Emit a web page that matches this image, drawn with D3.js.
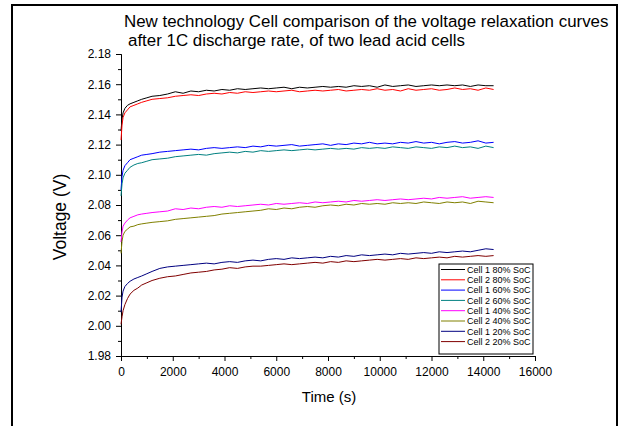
<!DOCTYPE html>
<html>
  <head>
    <meta charset="UTF-8">
    <title>Voltage relaxation</title>
    <style>
      body {
        margin: 0;
        background: #fff;
        font-family: Arial, "Liberation Sans", sans-serif;
      }
      text {
        font-family: Arial, "Liberation Sans", sans-serif;
        fill: #000;
      }
      .tick text {
        font-size: 12px;
      }
      .tick line, .domain {
        stroke: #000;
      }
      .axis-label {
        font-size: 15px;
      }
      .y-label {
        font-size: 17.5px;
      }
      .title {
        font-size: 16.9px;
      }
      .line {
        fill: none;
        stroke-width: 1;
      }
      .legend text {
        font-size: 9px;
      }
    </style>
    <script src="https://d3js.org/d3.v7.min.js"></script>
  </head>
  <body>
    <div id="my_dataviz"></div>
<script>
  // time of each sample (s)
  var times = [0, 40, 80, 150, 250, 350, 500, 650, 800, 1000,
    1200, 1500, 1800, 2100, 2400, 2700, 3000, 3300, 3600, 3900,
    4200, 4500, 4800, 5100, 5400, 5700, 6000, 6300, 6600, 6900,
    7200, 7500, 7800, 8100, 8400, 8700, 9000, 9300, 9600, 9900,
    10200, 10500, 10800, 11100, 11400, 11700, 12000, 12300, 12600, 12900,
    13200, 13500, 13800, 14100, 14400];

  var seriesNames = ["Cell 1 80% SoC", "Cell 2 80% SoC", "Cell 1 60% SoC", "Cell 2 60% SoC",
                     "Cell 1 40% SoC", "Cell 2 40% SoC", "Cell 1 20% SoC", "Cell 2 20% SoC"];
  var seriesColors = ["#000000", "#ff0000", "#0000ff", "#008080",
                      "#ff00ff", "#808000", "#000080", "#800000"];

  // voltages (V)
  var cell1_80 = [2.129, 2.137, 2.141, 2.144, 2.146, 2.147, 2.148, 2.149, 2.150, 2.151,
    2.152, 2.1525, 2.1535, 2.155, 2.154, 2.1555, 2.155, 2.156, 2.1555, 2.1565,
    2.156, 2.157, 2.1565, 2.157, 2.1575, 2.157, 2.1575, 2.158, 2.157, 2.158,
    2.1575, 2.158, 2.1585, 2.158, 2.1585, 2.158, 2.159, 2.1585, 2.159, 2.158,
    2.1595, 2.1585, 2.159, 2.1595, 2.1585, 2.159, 2.1595, 2.159, 2.1595, 2.159,
    2.1595, 2.1585, 2.1595, 2.159, 2.159];
  var cell2_80 = [2.123, 2.133, 2.138, 2.141, 2.143, 2.145, 2.146, 2.147, 2.148, 2.149,
    2.150, 2.1505, 2.151, 2.152, 2.1525, 2.153, 2.1525, 2.1535, 2.154, 2.1535,
    2.1545, 2.154, 2.155, 2.1545, 2.155, 2.1555, 2.155, 2.1555, 2.156, 2.155,
    2.1555, 2.156, 2.1555, 2.156, 2.1565, 2.1555, 2.156, 2.1565, 2.156, 2.157,
    2.156, 2.1565, 2.1555, 2.157, 2.156, 2.1565, 2.157, 2.156, 2.1565, 2.1575,
    2.1565, 2.157, 2.156, 2.1575, 2.1565];
  var cell1_60 = [2.090, 2.099, 2.103, 2.106, 2.108, 2.110, 2.111, 2.112, 2.113, 2.1135,
    2.114, 2.115, 2.1155, 2.116, 2.1165, 2.117, 2.1165, 2.1175, 2.118, 2.1175,
    2.118, 2.1185, 2.118, 2.119, 2.1185, 2.1195, 2.119, 2.1195, 2.120, 2.119,
    2.1195, 2.120, 2.1205, 2.1195, 2.1205, 2.120, 2.121, 2.1205, 2.1215, 2.1205,
    2.121, 2.1205, 2.1215, 2.121, 2.122, 2.121, 2.1215, 2.1205, 2.1215, 2.122,
    2.121, 2.1215, 2.1225, 2.121, 2.1215];
  var cell2_60 = [2.086, 2.094, 2.098, 2.101, 2.103, 2.105, 2.1065, 2.1075, 2.108, 2.109,
    2.110, 2.1105, 2.111, 2.112, 2.1125, 2.113, 2.1135, 2.113, 2.114, 2.1145,
    2.115, 2.1145, 2.1155, 2.115, 2.116, 2.1155, 2.116, 2.1165, 2.116, 2.1165,
    2.117, 2.1165, 2.117, 2.1175, 2.117, 2.1175, 2.117, 2.118, 2.1175, 2.118,
    2.1175, 2.1185, 2.118, 2.1175, 2.1185, 2.118, 2.1175, 2.1185, 2.118, 2.119,
    2.118, 2.1185, 2.1175, 2.119, 2.118];
  var cell1_40 = [2.0555, 2.062, 2.066, 2.068, 2.070, 2.0715, 2.0725, 2.0735, 2.074, 2.0745,
    2.075, 2.0755, 2.076, 2.0775, 2.077, 2.078, 2.0775, 2.0785, 2.079, 2.0785,
    2.0795, 2.079, 2.0795, 2.080, 2.0805, 2.080, 2.081, 2.0805, 2.081, 2.0815,
    2.081, 2.082, 2.0815, 2.082, 2.0825, 2.082, 2.083, 2.0825, 2.083, 2.0835,
    2.083, 2.0835, 2.084, 2.0835, 2.084, 2.0845, 2.084, 2.085, 2.0845, 2.085,
    2.0855, 2.0845, 2.085, 2.0855, 2.085];
  var cell2_40 = [2.048, 2.056, 2.060, 2.0625, 2.064, 2.0655, 2.066, 2.067, 2.0675, 2.068,
    2.0685, 2.069, 2.0695, 2.0705, 2.071, 2.0715, 2.072, 2.0725, 2.073, 2.074,
    2.0745, 2.075, 2.0755, 2.076, 2.0765, 2.0775, 2.077, 2.078, 2.0775, 2.0785,
    2.079, 2.0785, 2.0795, 2.080, 2.0795, 2.0805, 2.080, 2.081, 2.0805, 2.081,
    2.0805, 2.0815, 2.081, 2.0815, 2.081, 2.082, 2.0815, 2.081, 2.082, 2.0815,
    2.082, 2.081, 2.0825, 2.082, 2.0815];
  var cell1_20 = [2.009, 2.019, 2.023, 2.026, 2.028, 2.0295, 2.031, 2.032, 2.033, 2.0345,
    2.036, 2.038, 2.039, 2.0395, 2.040, 2.0405, 2.041, 2.0415, 2.041, 2.042,
    2.0425, 2.042, 2.043, 2.0435, 2.043, 2.044, 2.0445, 2.044, 2.045, 2.0445,
    2.045, 2.0455, 2.045, 2.046, 2.0455, 2.0465, 2.046, 2.047, 2.0465, 2.047,
    2.0475, 2.047, 2.048, 2.0475, 2.048, 2.0485, 2.048, 2.049, 2.0485, 2.049,
    2.0495, 2.049, 2.050, 2.051, 2.0505];
  var cell2_20 = [2.001, 2.006, 2.010, 2.014, 2.018, 2.021, 2.0235, 2.025, 2.027, 2.0285,
    2.030, 2.0315, 2.0325, 2.033, 2.034, 2.035, 2.0355, 2.036, 2.037, 2.0375,
    2.0385, 2.038, 2.039, 2.0395, 2.0395, 2.040, 2.0405, 2.041, 2.0405, 2.041,
    2.0415, 2.042, 2.0415, 2.0425, 2.042, 2.043, 2.0425, 2.043, 2.0435, 2.044,
    2.0435, 2.044, 2.0445, 2.044, 2.045, 2.0445, 2.045, 2.0455, 2.045, 2.046,
    2.0455, 2.046, 2.0465, 2.046, 2.0465];

  var seriesValues = [cell1_80, cell2_80, cell1_60, cell2_60, cell1_40, cell2_40, cell1_20, cell2_20];

  var xTicks = [0, 2000, 4000, 6000, 8000, 10000, 12000, 14000, 16000];
  var yTicks = [1.98, 2.00, 2.02, 2.04, 2.06, 2.08, 2.10, 2.12, 2.14, 2.16, 2.18];

  var W = 621, H = 426;
  var margin = {top: 54, right: 86, bottom: 70, left: 121},
      width = W - margin.left - margin.right,
      height = H - margin.top - margin.bottom;

  var root = d3.select("#my_dataviz")
    .append("svg")
      .attr("width", W)
      .attr("height", H);

  // outer frame (bottom edge runs off the page)
  root.append("rect")
    .attr("x", 12).attr("y", 5)
    .attr("width", 605).attr("height", 440)
    .attr("fill", "none")
    .attr("stroke", "#000")
    .attr("stroke-width", 2);

  // title, two lines
  root.append("text").attr("class", "title")
    .attr("x", 124).attr("y", 27)
    .text("New technology Cell comparison of the voltage relaxation curves");
  root.append("text").attr("class", "title")
    .attr("x", 128).attr("y", 46)
    .text("after 1C discharge rate, of two lead acid cells");

  var svg = root.append("g")
    .attr("transform", "translate(" + margin.left + "," + margin.top + ")");

  var x = d3.scaleLinear().domain([0, 16000]).range([0, width]);
  var y = d3.scaleLinear().domain([1.98, 2.18]).range([height, 0]);

  // minor ticks first, then the labelled ones on top
  svg.append("g")
    .attr("transform", "translate(0," + height + ")")
    .call(d3.axisBottom(x).tickValues(xTicks.slice(0, -1).map(function(d) { return d + 1000; }))
      .tickSize(3).tickFormat(""));
  svg.append("g")
    .call(d3.axisLeft(y).tickValues(yTicks.slice(0, -1).map(function(d) { return d + 0.01; }))
      .tickSize(3).tickFormat(""));

  svg.append("g")
    .attr("transform", "translate(0," + height + ")")
    .call(d3.axisBottom(x).tickValues(xTicks).tickSize(5).tickSizeOuter(0).tickPadding(6.5)
      .tickFormat(d3.format("d")));
  svg.append("g")
    .call(d3.axisLeft(y).tickValues(yTicks).tickSize(5).tickSizeOuter(0).tickPadding(5)
      .tickFormat(d3.format(".2f")));

  // axis titles
  svg.append("text").attr("class", "axis-label")
    .attr("x", width / 2 + 1).attr("y", height + 46)
    .attr("text-anchor", "middle")
    .text("Time (s)");
  svg.append("text").attr("class", "y-label")
    .attr("transform", "translate(-55.5," + (height / 2 + 12) + ") rotate(-90)")
    .attr("text-anchor", "middle")
    .text("Voltage (V)");

  // curves
  var line = d3.line()
    .x(function(d, i) { return x(times[i]); })
    .y(function(d) { return y(d); });

  seriesValues.forEach(function(vals, k) {
    svg.append("path")
      .datum(vals)
      .attr("class", "line")
      .attr("stroke", seriesColors[k])
      .attr("d", line);
  });

  // legend
  var lg = root.append("g").attr("class", "legend")
    .attr("transform", "translate(439,264)");
  lg.append("rect")
    .attr("width", 94).attr("height", 90)
    .attr("fill", "#fff").attr("stroke", "#000").attr("stroke-width", 1);
  seriesNames.forEach(function(name, k) {
    var yy = 5.5 + k * 10.3;
    lg.append("line")
      .attr("x1", 2).attr("x2", 26)
      .attr("y1", yy).attr("y2", yy)
      .attr("stroke", seriesColors[k]).attr("stroke-width", 1);
    lg.append("text")
      .attr("x", 28).attr("y", yy + 3.2)
      .text(name);
  });
</script>
  </body>
</html>
